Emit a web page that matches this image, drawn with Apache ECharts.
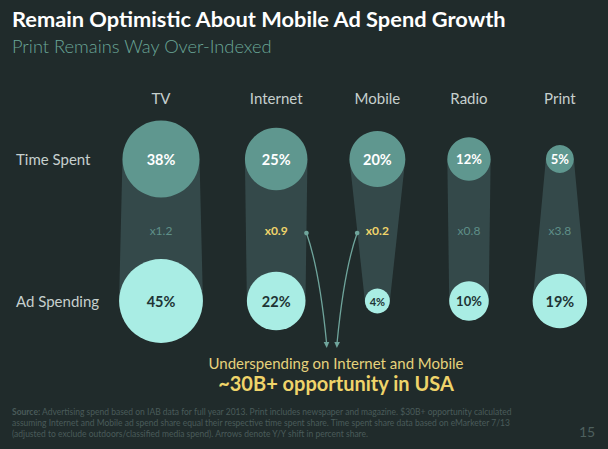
<!DOCTYPE html>
<html><head><meta charset="utf-8">
<script src="https://cdn.jsdelivr.net/npm/echarts@6/dist/echarts.min.js"></script>
<style>html,body{margin:0;padding:0;background:#202b2b;}#c{width:608px;height:449px;}</style>
</head><body><div id="c"></div>
<script>
// ---- data ----
const categories = ['TV', 'Internet', 'Mobile', 'Radio', 'Print'];
const rows = ['Time Spent', 'Ad Spending'];
const timeSpent = [38, 25, 20, 12, 5];
const adSpending = [45, 22, 4, 10, 19];
const highlighted = ['Internet', 'Mobile'];
const titleText = 'Remain Optimistic About Mobile Ad Spend Growth';
const subtitleText = 'Print Remains Way Over-Indexed';
const noteLine1 = 'Underspending on Internet and Mobile';
const noteLine2 = '~30B+ opportunity in USA';
const sourceLines = [
  '{b|Source:} Advertising spend based on IAB data for full year 2013. Print includes newspaper and magazine. $30B+ opportunity calculated',
  'assuming Internet and Mobile ad spend share equal their respective time spent share. Time spent share data based on eMarketer 7/13',
  '(adjusted to exclude outdoors/classified media spend). Arrows denote Y/Y shift in percent share.'
];
const pageNumber = '15';

// ---- layout ----
const FONT = 'Lato, "Noto Sans", sans-serif';
const K = 12.5;          // bubble diameter per sqrt(percent)
const GAP = 42;          // gap between columns
const FIRST_X = 161;
const diam = v => K * Math.sqrt(v);
const colX = [];
categories.forEach((c, i) => {
  const d = Math.max(diam(timeSpent[i]), diam(adSpending[i]));
  if (i === 0) colX.push(FIRST_X);
  else {
    const pd = Math.max(diam(timeSpent[i - 1]), diam(adSpending[i - 1]));
    colX.push(colX[i - 1] + pd / 2 + GAP + d / 2);
  }
});
const labelSize = d => d >= 50 ? 14.5 : (d >= 27 ? 13 : 11);

const C = {
  bg: '#202b2b', top: '#5f978f', bottom: '#a9ede4', band: '#34494a',
  ratio: '#5f8f88', yellow: '#efd46a', arrow: '#6fa59c', cat: '#c6d0ce',
  sub: '#6aa697', src: '#4a5b5a'
};

const chart = echarts.init(document.getElementById('c'), null, { renderer: 'svg' });

function renderColumn(params, api) {
  const i = params.dataIndex;
  const x = colX[i];
  const pT = api.coord([x, 0]);
  const pB = api.coord([x, 1]);
  const rT = diam(timeSpent[i]) / 2, rB = diam(adSpending[i]) / 2;
  const midY = (pT[1] + pB[1]) / 2;
  const hi = highlighted.indexOf(categories[i]) >= 0;
  const children = [
    { type: 'polygon', shape: { points: [[pT[0] - rT, pT[1]], [pT[0] + rT, pT[1]], [pB[0] + rB, pB[1]], [pB[0] - rB, pB[1]]] },
      style: { fill: C.band } },
    { type: 'text', style: { text: 'x' + (adSpending[i] / timeSpent[i]).toFixed(1), x: pT[0], y: midY,
        textAlign: 'center', textVerticalAlign: 'middle', fill: hi ? C.yellow : C.ratio,
        font: (hi ? 'bold ' : '') + '12px ' + FONT } },
    { type: 'text', style: { text: categories[i], x: pT[0], y: pT[1] - 61,
        textAlign: 'center', textVerticalAlign: 'middle', fill: C.cat, font: '15px ' + FONT } }
  ];
  if (hi) {
    const idx = highlighted.indexOf(categories[i]);
    const dir = idx === 0 ? 1 : -1;
    const half = (rT + rB) / 2;
    const sx = pT[0] + dir * half, sy = midY + 3;
    const ex = sx + dir * 20, ey = pB[1] + 41;
    children.push(
      { type: 'bezierCurve', shape: { x1: sx, y1: sy, x2: ex, y2: ey, cpx1: sx + dir * 13, cpy1: sy + 37 },
        style: { stroke: C.arrow, lineWidth: 1.3, fill: null } },
      { type: 'circle', shape: { cx: sx, cy: sy, r: 2.3 }, style: { fill: C.arrow } },
      { type: 'polygon', shape: { points: [[ex - 2.8, ey], [ex + 2.8, ey], [ex + dir * 0.3, ey + 6]] },
        style: { fill: C.arrow } }
    );
  }
  return { type: 'group', children };
}

const bubble = (vals, row) => vals.map((v, i) => {
  const d = diam(v);
  return { value: [colX[i], row, v], symbolSize: d,
    label: { fontSize: labelSize(d) } };
});

chart.setOption({
  backgroundColor: C.bg,
  animation: false,
  grid: { left: 0, right: 0, top: 159, bottom: 148 },
  xAxis: { type: 'value', min: 0, max: 608, show: false },
  yAxis: {
    type: 'category', data: rows, inverse: true, boundaryGap: false,
    axisLine: { show: false }, axisTick: { show: false }, splitLine: { show: false },
    axisLabel: { inside: true, margin: 16, color: C.cat, fontSize: 15, fontFamily: FONT }
  },
  series: [
    { type: 'custom', renderItem: renderColumn, data: categories.map((c, i) => [colX[i], 0]), z: 1, silent: true },
    { type: 'scatter', z: 3, data: bubble(timeSpent, 0), itemStyle: { color: C.top, opacity: 1 },
      label: { show: true, position: 'inside', formatter: p => p.value[2] + '%', color: '#ffffff',
        fontWeight: 'bold', fontFamily: FONT } },
    { type: 'scatter', z: 3, data: bubble(adSpending, 1), itemStyle: { color: C.bottom, opacity: 1 },
      label: { show: true, position: 'inside', formatter: p => p.value[2] + '%', color: '#1e3434',
        fontWeight: 'bold', fontFamily: FONT } }
  ],
  graphic: [
    { type: 'text', left: 12, top: 7, style: { text: titleText, fill: '#ffffff', font: 'bold 21.8px ' + FONT } },
    { type: 'text', left: 12, top: 37, style: { text: subtitleText, fill: C.sub, font: '300 18.3px ' + FONT } },
    { type: 'text', x: 336, y: 363, style: { text: noteLine1, fill: '#e6d27c', font: '15px ' + FONT,
        textAlign: 'center', textVerticalAlign: 'middle' } },
    { type: 'text', x: 336, y: 383, style: { text: noteLine2, fill: C.yellow, font: 'bold 20px ' + FONT,
        textAlign: 'center', textVerticalAlign: 'middle' } },
    { type: 'text', left: 12, top: 406, style: { text: sourceLines.join('\n'), fill: C.src, font: '8.5px ' + FONT,
        lineHeight: 11.3, rich: { b: { fontWeight: 'bold', fill: C.src, fontSize: 8.5, fontFamily: FONT } } } },
    { type: 'text', x: 587, y: 431, style: { text: pageNumber, fill: '#4e605e', font: '14px ' + FONT,
        textAlign: 'center', textVerticalAlign: 'middle' } }
  ]
});
</script></body></html>
